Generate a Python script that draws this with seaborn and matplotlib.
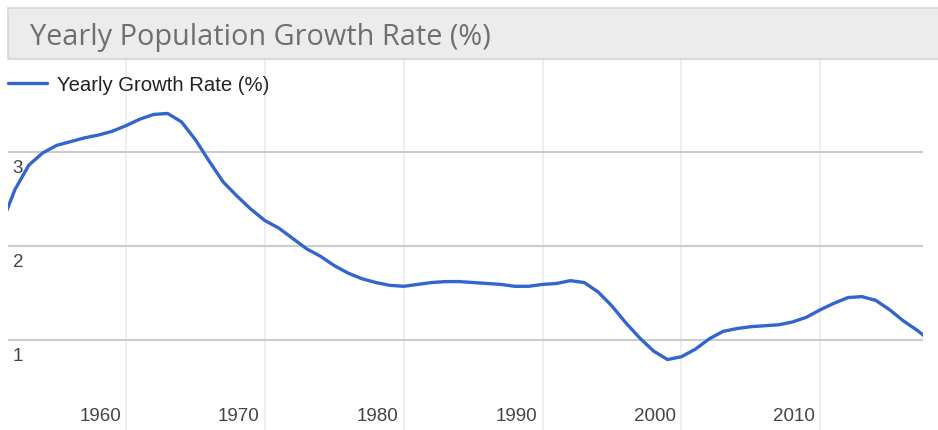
import numpy as np
import pandas as pd
import matplotlib.pyplot as plt
import seaborn as sns
from matplotlib.patches import Rectangle

# Data
years = list(range(1951, 2019))
growth_rate = [
    2.22, 2.60, 2.86, 2.99, 3.07, 3.11, 3.15, 3.18, 3.22, 3.28,
    3.35, 3.40, 3.41, 3.32, 3.13, 2.90, 2.68, 2.53, 2.39, 2.27,
    2.19, 2.08, 1.97, 1.89, 1.79, 1.71, 1.65, 1.61, 1.58, 1.57,
    1.59, 1.61, 1.62, 1.62, 1.61, 1.60, 1.59, 1.57, 1.57, 1.59,
    1.60, 1.63, 1.61, 1.51, 1.36, 1.18, 1.02, 0.88, 0.79, 0.82,
    0.90, 1.01, 1.09, 1.12, 1.14, 1.15, 1.16, 1.19, 1.24, 1.32,
    1.39, 1.45, 1.46, 1.42, 1.32, 1.20, 1.10, 0.98,
]
x_ticks = [1960, 1970, 1980, 1990, 2000, 2010]
y_ticks = [1, 2, 3]
title = "Yearly Population Growth Rate (%)"
series_name = "Yearly Growth Rate (%)"

df = pd.DataFrame({"Year": years, "Rate": growth_rate})

sns.set_theme(style="white")
plt.rcParams['font.family'] = ['Liberation Sans', 'DejaVu Sans']

W, H = 938, 431
fig = plt.figure(figsize=(W / 100, H / 100), dpi=100)

# title box
fig.patches.append(Rectangle((8 / W, 1 - 60 / H), 1, 51 / H, transform=fig.transFigure,
                             facecolor="#ececec", edgecolor="#d6d6d6", linewidth=1.2, zorder=0))
fig.text(30 / W, 1 - 38 / H, title, fontsize=20.8, color="#6f6f6f",
         family=['Open Sans', 'DejaVu Sans'], va="center", ha="left")

ax = fig.add_axes([8 / W, 0, 915 / W, 371 / H])
ax.set_xlim(1951.5, 2017.4)
ax.set_ylim(0.04, 3.99)

for xt in x_ticks:
    ax.axvline(xt, color="#ebebeb", linewidth=1.2, zorder=0)
for yt in y_ticks:
    ax.axhline(yt, color="#cccccc", linewidth=1.5, zorder=1)

sns.lineplot(data=df, x="Year", y="Rate", ax=ax, color="#3366cc", linewidth=2.4,
             label=series_name, zorder=3)
ax.get_lines()[-1].set_solid_joinstyle("round")

ax.set_xticks([])
ax.set_yticks([])
ax.set_xlabel("")
ax.set_ylabel("")
for s in ax.spines.values():
    s.set_visible(False)

# y labels inside the plot, under each gridline
for yt in y_ticks:
    ax.text(0.005, yt - 0.08, str(yt), transform=ax.get_yaxis_transform(),
            ha="left", va="top", fontsize=13.5, color="#444444")

# x labels right-aligned just left of each gridline
for xt in x_ticks:
    ax.annotate(str(xt), xy=(xt, 0), xycoords=ax.get_xaxis_transform(),
                xytext=(-5, 14), textcoords="offset pixels",
                ha="right", va="center", fontsize=13.5, color="#444444")

leg = ax.legend(loc="upper left", bbox_to_anchor=(0, 1 - 16 / 371), frameon=False,
                fontsize=14.6, handlelength=1.9, handletextpad=0.5, borderaxespad=0,
                borderpad=0.0)
leg.get_lines()[0].set_linewidth(2.4)
for t in leg.get_texts():
    t.set_color("#222222")

fig.savefig("out.png", dpi=100)
